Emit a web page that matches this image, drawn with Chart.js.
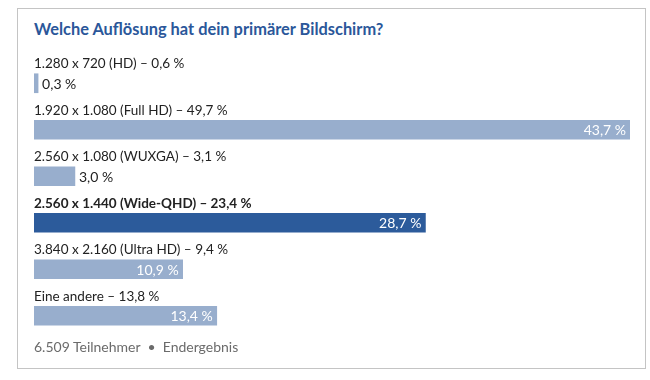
<!DOCTYPE html>
<html>
<head>
<meta charset="utf-8">
<script src="https://cdn.jsdelivr.net/npm/chart.js@4"></script>
<style>
  html, body { margin: 0; padding: 0; background: #fff; }
  body { width: 650px; height: 380px; position: relative; overflow: hidden; font-family: "Lato", "Noto Sans", sans-serif; }
  #box { position: absolute; left: 17px; top: 8px; width: 627px; height: 359px; border: 1px solid #c4c4c4; }
  #title { position: absolute; left: 34px; top: 19px; font-size: 16.4px; font-weight: bold; color: #2b579a; white-space: nowrap; }
  #footer { position: absolute; left: 34px; top: 338px; font-size: 14px; color: #6b6b6b; white-space: nowrap; }
  #wrap { position: absolute; left: 0; top: 0; width: 650px; height: 380px; }
</style>
</head>
<body>
<div id="box"></div>
<div id="title">Welche Auflösung hat dein primärer Bildschirm?</div>
<div id="wrap"><canvas id="c" width="650" height="380"></canvas></div>
<div id="footer">6.509 Teilnehmer &nbsp;•&nbsp; Endergebnis</div>
<script>
const categories = ["1.280 x 720 (HD)", "1.920 x 1.080 (Full HD)", "2.560 x 1.080 (WUXGA)", "2.560 x 1.440 (Wide-QHD)", "3.840 x 2.160 (Ultra HD)", "Eine andere"];
const labelShares = [0.6, 49.7, 3.1, 23.4, 9.4, 13.8];
const values = [0.3, 43.7, 3.0, 28.7, 10.9, 13.4];
const highlightIndex = 3;

const fmt = v => v.toFixed(1).replace('.', ',') + ' %';
const FONT = '"Lato", "Noto Sans", sans-serif';

const labelPlugin = {
  id: 'barLabels',
  afterDatasetsDraw(chart) {
    const ctx = chart.ctx;
    const meta = chart.getDatasetMeta(0);
    ctx.save();
    meta.data.forEach((bar, i) => {
      const isHi = i === highlightIndex;
      ctx.font = (isHi ? 'bold ' : '') + '13.5px ' + FONT;
      ctx.fillStyle = '#222';
      ctx.textAlign = 'left';
      ctx.textBaseline = 'middle';
      ctx.fillText(categories[i] + ' – ' + fmt(labelShares[i]), chart.chartArea.left, bar.y - 19.5);
      const txt = fmt(values[i]);
      ctx.font = '14px ' + FONT;
      const w = ctx.measureText(txt).width;
      const barW = bar.x - bar.base;
      if (barW > w + 10) {
        ctx.fillStyle = '#fff';
        ctx.textAlign = 'right';
        ctx.fillText(txt, bar.x - 4, bar.y + 1);
      } else {
        ctx.fillStyle = '#222';
        ctx.textAlign = 'left';
        ctx.fillText(txt, bar.x + 4, bar.y + 1);
      }
    });
    ctx.restore();
  }
};

new Chart(document.getElementById('c'), {
  type: 'bar',
  data: {
    labels: categories,
    datasets: [{
      data: values,
      backgroundColor: values.map((v, i) => i === highlightIndex ? '#2c5b9b' : '#98aecd'),
      borderWidth: 0,
      barThickness: 19
    }]
  },
  options: {
    indexAxis: 'y',
    responsive: false,
    animation: false,
    layout: { padding: { left: 34, right: 20, top: 60, bottom: 41 } },
    plugins: { legend: { display: false }, tooltip: { enabled: false } },
    scales: {
      x: { display: false, min: 0, max: 43.7 },
      y: { display: false }
    }
  },
  plugins: [labelPlugin]
});
</script>
</body>
</html>
